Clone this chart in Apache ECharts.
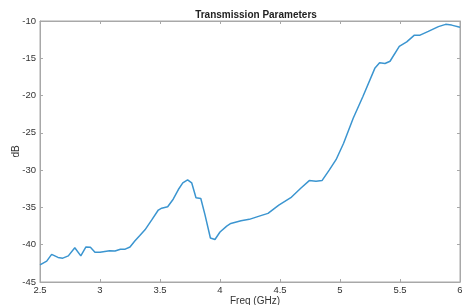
<!DOCTYPE html>
<html><head><meta charset="utf-8">
<script src="https://cdn.jsdelivr.net/npm/echarts@6/dist/echarts.min.js"></script>
<style>html,body{margin:0;padding:0;background:#fff}#c{width:462px;height:305px}</style>
</head><body><div id="c"></div>
<script>
const freq = [2.5,2.508,2.556,2.597,2.65,2.69,2.736,2.79,2.84,2.883,2.92,2.958,3.0,3.08,3.125,3.17,3.21,3.25,3.29,3.33,3.375,3.43,3.486,3.514,3.564,3.61,3.653,3.69,3.73,3.764,3.8,3.84,3.875,3.92,3.958,4.0,4.056,4.09,4.175,4.244,4.34,4.4,4.49,4.59,4.675,4.744,4.8,4.85,4.91,4.967,5.03,5.11,5.19,5.29,5.33,5.375,5.417,5.494,5.556,5.62,5.667,5.736,5.82,5.88,5.93,6.0];
const db = [-42.7,-42.6,-42.2,-41.3,-41.7,-41.8,-41.5,-40.4,-41.5,-40.3,-40.35,-41.0,-41.0,-40.8,-40.85,-40.6,-40.6,-40.3,-39.5,-38.8,-38.0,-36.7,-35.35,-35.1,-34.9,-33.9,-32.6,-31.7,-31.3,-31.7,-33.7,-33.8,-36.0,-39.1,-39.3,-38.3,-37.5,-37.15,-36.8,-36.6,-36.1,-35.8,-34.7,-33.7,-32.4,-31.4,-31.5,-31.4,-30.0,-28.6,-26.4,-23.05,-20.15,-16.35,-15.6,-15.7,-15.4,-13.4,-12.8,-11.9,-11.9,-11.4,-10.75,-10.45,-10.55,-10.85];
const xTicks = [2.5,3,3.5,4,4.5,5,5.5,6];
const yTicks = [-45,-40,-35,-30,-25,-20,-15,-10];

const chart = echarts.init(document.getElementById('c'), null, {renderer:'canvas'});
const font = 'Liberation Sans, Arial, sans-serif';
const axisCol = '#a8a8a8';
const labelCol = '#333';
const fmtX = v => xTicks.includes(+v.toFixed(2)) ? String(+v.toFixed(2)) : '';
chart.setOption({
  animation:false,
  title:{text:'Transmission Parameters', left:251, top:5, textAlign:'center',
    textStyle:{fontFamily:font,fontSize:10,fontWeight:'bold',color:'#222'}},
  grid:{left:40,right:2,top:21,bottom:23,show:true,borderColor:axisCol,borderWidth:1,
    containLabel:false,outerBoundsMode:'none'},
  xAxis:[{type:'value',min:2.5,max:6,interval:0.5,name:'Freq (GHz)',nameLocation:'middle',nameGap:14,
    nameMoveOverlap:false,
    nameTextStyle:{fontFamily:font,fontSize:10,color:labelCol,padding:[0,0,0,10]},
    axisLine:{show:true,lineStyle:{color:axisCol}},
    axisTick:{show:true,inside:true,length:3,lineStyle:{color:axisCol}},
    axisLabel:{fontFamily:font,fontSize:9.5,color:labelCol,margin:3,formatter:fmtX},
    splitLine:{show:false}},
    {type:'value',position:'top',min:2.5,max:6,interval:0.5,
    axisLine:{show:true,lineStyle:{color:axisCol}},
    axisTick:{show:true,inside:true,length:3,lineStyle:{color:axisCol}},
    axisLabel:{show:false},splitLine:{show:false}}],
  yAxis:[{type:'value',min:-45,max:-10,interval:5,name:'dB',nameLocation:'middle',nameGap:19,
    nameMoveOverlap:false,
    nameTextStyle:{fontFamily:font,fontSize:10,color:labelCol},
    axisLine:{show:true,lineStyle:{color:axisCol}},
    axisTick:{show:true,inside:true,length:3,lineStyle:{color:axisCol}},
    axisLabel:{fontFamily:font,fontSize:9.5,color:labelCol,margin:4},
    splitLine:{show:false}},
    {type:'value',position:'right',min:-45,max:-10,interval:5,
    axisLine:{show:true,lineStyle:{color:axisCol}},
    axisTick:{show:true,inside:true,length:3,lineStyle:{color:axisCol}},
    axisLabel:{show:false},splitLine:{show:false}}],
  series:[{type:'line',data:freq.map((f,i)=>[f,db[i]]),showSymbol:false,smooth:false,
    lineStyle:{color:'#3b95d0',width:1.5},clip:true}]
});
</script></body></html>
